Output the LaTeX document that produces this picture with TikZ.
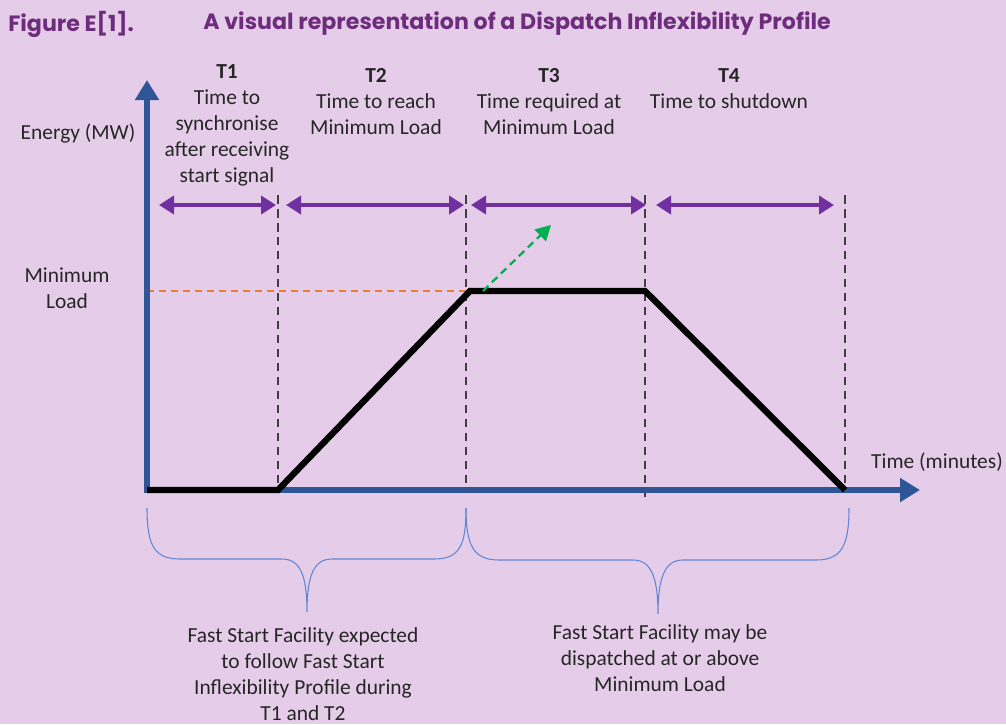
\documentclass[tikz,border=0pt]{standalone}
\usepackage{fontspec}
\setmainfont{Carlito}
\newfontfamily\titlefont{Poppins}
\usetikzlibrary{arrows.meta}
\definecolor{bgpurple}{RGB}{229,205,233}
\definecolor{darkpurple}{RGB}{112,48,160}
\definecolor{titlepurple}{RGB}{110,44,125}
\definecolor{axisblue}{RGB}{47,85,151}
\definecolor{minorange}{RGB}{237,125,49}
\definecolor{upgreen}{RGB}{0,176,80}
\definecolor{bracecol}{RGB}{96,134,212}
\definecolor{textgray}{RGB}{38,38,38}
\tikzset{
  axis/.style={axisblue, line width=3.4pt, -{Triangle[width=0.46cm,length=0.4cm]}},
  profile/.style={black, line width=3.6pt, line join=miter},
  period/.style={darkpurple, line width=2.8pt, {Triangle[width=0.36cm,length=0.3cm]}-{Triangle[width=0.36cm,length=0.3cm]}},
  divider/.style={black!75, line width=1.1pt, dash pattern=on 0.17cm off 0.11cm},
  curly/.style={bracecol, line width=0.6pt},
  lbl/.style={align=center, font=\fontsize{12.2}{14.8}\selectfont, text=textgray, inner sep=0pt},
  heading/.style={anchor=west, inner sep=0pt, text=titlepurple, font=\titlefont\bfseries\fontsize{12.6}{15}\selectfont},
}
\begin{document}
\begin{tikzpicture}[x=0.02cm, y=-0.02cm]
    \fill[bgpurple] (0,0) rectangle (1006,724);
    \useasboundingbox (0,0) rectangle (1006,724);

    \node[heading] (fignum) at (8,24) {Figure E[1].};
    \node[heading] (figtitle) at (203,24) {A visual representation of a Dispatch Inflexibility Profile};

        \coordinate (O) at (147,490);
        \coordinate (ytip) at (147,80);
        \coordinate (xtip) at (920,490);
    \coordinate (S1) at (278,490);
    \coordinate (S2) at (470,291);
    \coordinate (S3) at (645,291);
    \coordinate (S4) at (845,490);
    \coordinate (minl) at (147,291);
        \coordinate (D1) at (278,195);
        \coordinate (D2) at (466,195);
        \coordinate (D3) at (645,195);
        \coordinate (D4) at (845,195);
        \coordinate (D1b) at (278,490);
        \coordinate (D2b) at (466,490);
        \coordinate (D3b) at (645,502);
        \coordinate (D4b) at (845,490);
    \coordinate (gstart) at (483,291);
    \coordinate (gend) at (551,225);

    \draw[divider] (D1) -- (D1b);
    \draw[divider] (D2) -- (D2b);
    \draw[divider] (D3) -- (D3b);
    \draw[divider] (D4) -- (D4b);

    \draw[minorange, line width=1.2pt, dash pattern=on 0.14cm off 0.1cm] (minl) -- (S2);
    \draw[axis] ([yshift=-1.7pt]O) -- (ytip);
    \draw[axis] ([xshift=-1.7pt]O) -- (xtip);
    \draw[profile] (O) -- (S1) -- (S2) -- (S3) -- (S4);
    \draw[upgreen, line width=1.3pt, dash pattern=on 0.15cm off 0.1cm, -{Triangle[width=0.32cm,length=0.3cm]}] (gstart) -- (gend);

    \coordinate (A1) at (159,205);
    \coordinate (B1) at (276,205);
    \coordinate (A2) at (286,205);
    \coordinate (B2) at (464,205);
    \coordinate (A3) at (471,205);
    \coordinate (B3) at (646,205);
    \coordinate (A4) at (656,205);
    \coordinate (B4) at (834,205);
    \draw[period] (A1) -- (B1);
    \draw[period] (A2) -- (B2);
    \draw[period] (A3) -- (B3);
    \draw[period] (A4) -- (B4);

    \node[lbl, anchor=north] (T1) at (227,64) {\textbf{T1}\\Time to\\synchronise\\after receiving\\start signal};
    \node[lbl, anchor=north] (T2) at (376,68) {\textbf{T2}\\Time to reach\\Minimum Load};
    \node[lbl, anchor=north] (T3) at (549,68) {\textbf{T3}\\Time required at\\Minimum Load};
    \node[lbl, anchor=north] (T4) at (729,68) {\textbf{T4}\\Time to shutdown};

    \node[lbl] (energy) at (78,133) {Energy (MW)};
    \node[lbl] (minload) at (67,288) {Minimum\\Load};
    \node[lbl] (time) at (937,462) {Time (minutes)};

    \coordinate (L1) at (147,508);
    \coordinate (R1) at (466,508);
    \coordinate (P1) at (307,612);
    \coordinate (L2) at (466,508);
    \coordinate (R2) at (849,508);
    \coordinate (P2) at (658,614);
    \draw[curly] (L1) .. controls (147,545) and (154,559) .. (180,559) -- (282,559)
        .. controls (300,559) and (307,575) .. (P1)
        .. controls (307,575) and (314,559) .. (332,559) -- (434,559)
        .. controls (460,559) and (466,545) .. (R1);
    \draw[curly] (L2) .. controls (466,545) and (473,560) .. (499,560) -- (633,560)
        .. controls (651,560) and (658,577) .. (P2)
        .. controls (658,577) and (665,560) .. (683,560) -- (816,560)
        .. controls (842,560) and (849,545) .. (R2);

    \node[lbl, anchor=north] (below1) at (303,627) {Fast Start Facility expected\\to follow Fast Start\\Inflexibility Profile during\\T1 and T2};
    \node[lbl, anchor=north] (below2) at (660,624) {Fast Start Facility may be\\dispatched at or above\\Minimum Load};
\end{tikzpicture}
\end{document}
